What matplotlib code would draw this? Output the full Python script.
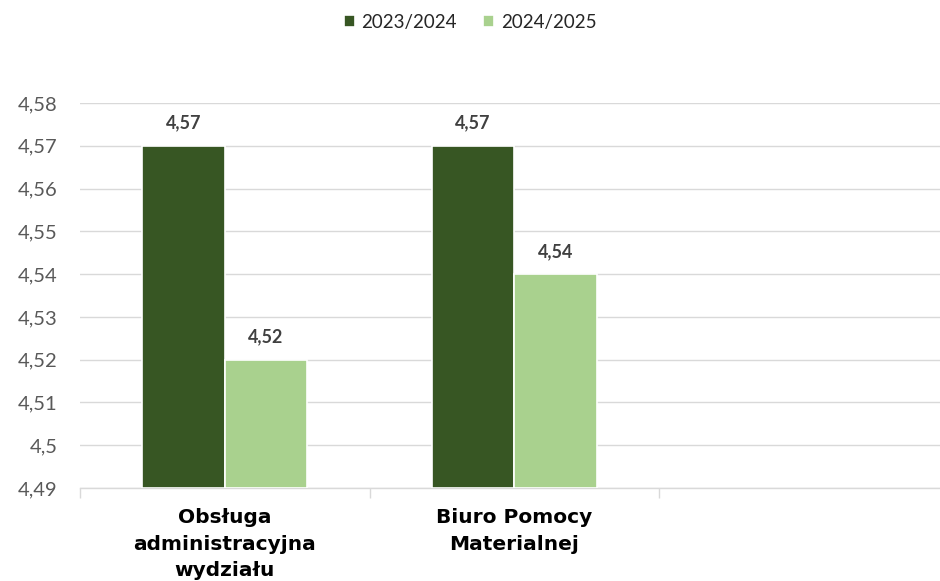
import numpy as np
import matplotlib.pyplot as plt
from matplotlib.ticker import FuncFormatter, MultipleLocator
import matplotlib.transforms as mtransforms

categories = ['Obsługa\nadministracyjna\nwydziału', 'Biuro Pomocy\nMaterialnej', '']
series_names = ['2023/2024', '2024/2025']
values_2324 = [4.57, 4.57]
values_2425 = [4.52, 4.54]
colors = ['#375623', '#A9D18E']

fig = plt.figure(figsize=(9.4, 5.81), dpi=100)
ax = fig.add_axes([80 / 940, 93 / 581, 860 / 940, 385 / 581])

bottom = 4.49
w = 0.285
x = np.arange(len(values_2324))
for i, (vals, col) in enumerate(zip([values_2324, values_2425], colors)):
    xs = x + (i - 0.5) * w
    h = np.array(vals) - bottom
    ax.bar(xs, h, width=w, bottom=bottom, color=col, edgecolor='white',
           linewidth=1.2, label=series_names[i], zorder=3)
    for xi, v in zip(xs, vals):
        ax.text(xi, v + 0.0033, f'{v:.2f}'.replace('.', ','), ha='center', va='bottom',
                fontsize=13, fontweight='bold', color='#404040', family='Lato')

ax.set_ylim(4.49, 4.58)
ax.set_xlim(-0.5, -0.5 + 860 / 289.5)
ax.yaxis.set_major_locator(MultipleLocator(0.01))
ax.yaxis.set_major_formatter(FuncFormatter(lambda v, p: f'{v:.2f}'.rstrip('0').replace('.', ',')))
ax.grid(axis='y', color='#d9d9d9', linewidth=1, zorder=0)
for s in ['top', 'right', 'left']:
    ax.spines[s].set_visible(False)
ax.spines['bottom'].set_color('#d9d9d9')
ax.spines['bottom'].set_linewidth(1)
ax.tick_params(axis='y', length=0, labelsize=14.5, labelcolor='#595959', pad=16)
for lab in ax.get_yticklabels():
    lab.set_family('Lato')

# granice kategorii
ax.set_xticks([-0.5, 0.5, 1.5])
ax.set_xticklabels([])
ax.tick_params(axis='x', length=7, color='#d9d9d9', width=1)

trans = mtransforms.blended_transform_factory(ax.transData, fig.transFigure)
for xi, c in zip(range(len(categories)), categories):
    ax.text(xi, 1 - 508 / 581, c, transform=trans, ha='center', va='top',
            fontsize=14.5, fontweight='bold', color='black', linespacing=1.5,
            family='DejaVu Sans')

leg = fig.legend(loc='upper center', bbox_to_anchor=(0.5, 1.005), ncol=2, frameon=False,
                 handlelength=0.6, handleheight=0.6, columnspacing=1.4,
                 handletextpad=0.35, prop={'family': 'Lato', 'size': 13.5})
for t in leg.get_texts():
    t.set_color('#262626')

fig.savefig('out.png', dpi=100)
